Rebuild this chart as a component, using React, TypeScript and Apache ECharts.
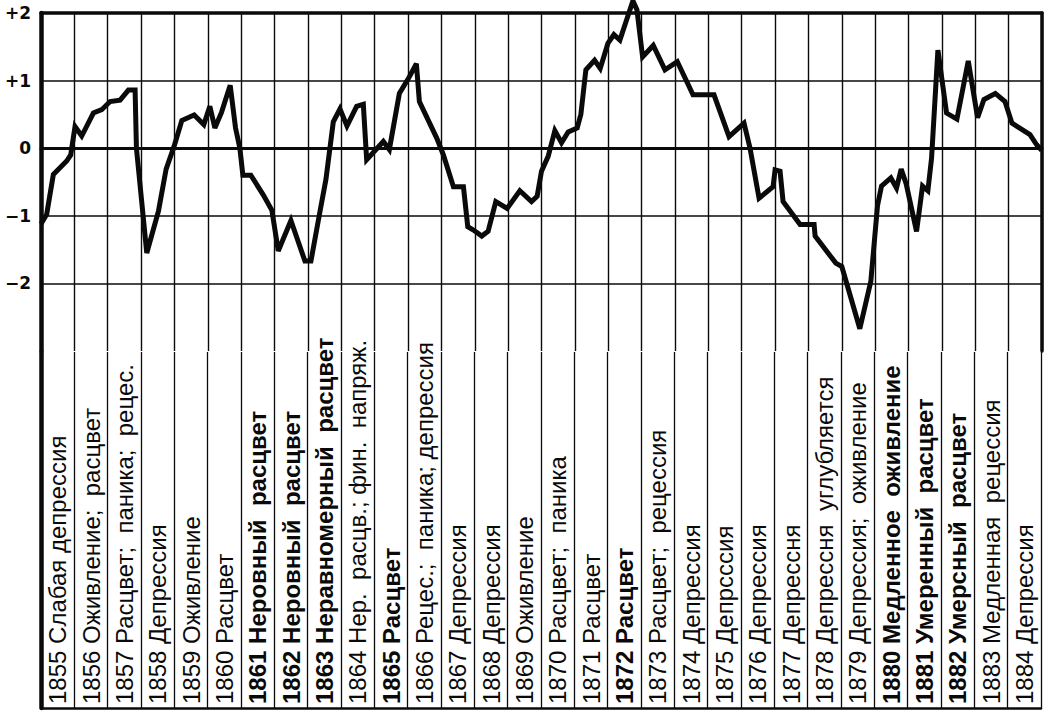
import React, { useEffect, useRef } from "react";
import * as echarts from "echarts";

// Years shown in the label strip
const years = [
  "1855", "1856", "1857", "1858", "1859", "1860", "1861", "1862", "1863", "1864",
  "1865", "1866", "1867", "1868", "1869", "1870", "1871", "1872", "1873", "1874",
  "1875", "1876", "1877", "1878", "1879", "1880", "1881", "1882", "1883", "1884",
];

// Business-annals phase for each year
const phases = [
  "Слабая депрессия",
  "Оживление;  расцвет",
  "Расцвет;  паника;  рецес.",
  "Депрессия",
  "Оживление",
  "Расцвет",
  "Неровный  расцвет",
  "Неровный  расцвет",
  "Неравномерный  расцвет",
  "Нер.  расцв.; фин.  напряж.",
  "Расцвет",
  "Рецес.;  паника; депрессия",
  "Депрессия",
  "Депрессия",
  "Оживление",
  "Расцвет;  паника",
  "Расцвет",
  "Расцвет",
  "Расцвет;  рецессия",
  "Депрессия",
  "Депрсссия",
  "Депрессия",
  "Депрессня",
  "Депрессня  углубляется",
  "Депрессия;  оживление",
  "Медленное  оживление",
  "Умеренный  расцвет",
  "Умерсный  расцвет",
  "Медленная  рецессия",
  "Депрессия",
];

// Years whose caption is printed in heavier type
const boldYears = ["1861", "1862", "1863", "1865", "1872", "1880", "1881", "1882"];

// Time (fractional year) of each vertex of the curve
const times = [
  1855.0, 1855.17, 1855.37, 1855.77, 1855.89, 1856.02, 1856.22, 1856.57, 1856.82, 1857.07,
  1857.37, 1857.62, 1857.82, 1857.86, 1858.17, 1858.52, 1858.75, 1858.99, 1859.22, 1859.59,
  1859.88, 1860.06, 1860.21, 1860.41, 1860.67, 1860.83, 1860.96, 1861.05, 1861.29, 1861.66,
  1861.92, 1862.11, 1862.49, 1862.91, 1863.09, 1863.33, 1863.54, 1863.76, 1863.96, 1864.17,
  1864.46, 1864.66, 1864.76, 1865.26, 1865.44, 1865.74, 1866.01, 1866.25, 1866.34, 1866.86,
  1867.06, 1867.36, 1867.66, 1867.79, 1867.96, 1868.21, 1868.4, 1868.63, 1868.97, 1869.35,
  1869.7, 1869.87, 1870.0, 1870.2, 1870.4, 1870.6, 1870.8, 1871.07, 1871.18, 1871.33,
  1871.59, 1871.76, 1871.99, 1872.17, 1872.35, 1872.74, 1872.86, 1873.03, 1873.35, 1873.7,
  1874.07, 1874.36, 1874.54, 1875.17, 1875.62, 1876.07, 1876.25, 1876.52, 1876.94, 1877.0,
  1877.15, 1877.24, 1877.75, 1878.17, 1878.2, 1878.82, 1879.0, 1879.54, 1879.87, 1880.07,
  1880.19, 1880.47, 1880.64, 1880.78, 1880.93, 1881.24, 1881.42, 1881.58, 1881.69, 1881.88,
  1882.14, 1882.45, 1882.79, 1883.07, 1883.26, 1883.6, 1883.89, 1884.1, 1884.64, 1884.84,
  1884.99,
];

// Index value at each vertex
const values = [
  -1.12, -0.98, -0.39, -0.19, -0.1, 0.32, 0.18, 0.52, 0.57, 0.69,
  0.71, 0.86, 0.86, 0.0, -1.55, -0.93, -0.31, 0.03, 0.41, 0.49,
  0.35, 0.62, 0.3, 0.53, 0.93, 0.3, 0.0, -0.4, -0.4, -0.69,
  -0.92, -1.52, -1.07, -1.67, -1.67, -1.02, -0.46, 0.39, 0.58, 0.33,
  0.62, 0.65, -0.17, 0.1, -0.02, 0.81, 1.03, 1.25, 0.69, 0.15,
  -0.1, -0.57, -0.57, -1.16, -1.21, -1.3, -1.23, -0.79, -0.89, -0.63,
  -0.79, -0.71, -0.34, -0.12, 0.26, 0.08, 0.24, 0.3, 0.5, 1.16,
  1.3, 1.18, 1.55, 1.68, 1.6, 2.18, 2.05, 1.35, 1.52, 1.16,
  1.28, 0.98, 0.79, 0.79, 0.17, 0.37, 0.0, -0.74, -0.57, -0.32,
  -0.34, -0.79, -1.13, -1.13, -1.3, -1.7, -1.75, -2.67, -1.97, -0.85,
  -0.56, -0.44, -0.59, -0.31, -0.53, -1.23, -0.56, -0.63, -0.15, 1.45,
  0.52, 0.43, 1.29, 0.45, 0.72, 0.81, 0.69, 0.37, 0.2, 0.05,
  -0.03,
];

const INK = "#0a0a0a";

export default function App() {
  const ref = useRef<HTMLDivElement>(null);

  useEffect(() => {
    if (!ref.current) return;
    const chart = echarts.init(ref.current, null, { renderer: "svg" });
    const captions = years.map((y, i) => y + " " + phases[i]);
    const curve = times.map((t, i) => [t, values[i]]);

    chart.setOption({
      animation: false,
      backgroundColor: "#ffffff",
      grid: [
        { left: 41, right: 6, top: 13, height: 338 },
        { left: 41, right: 7, top: 352, bottom: 6 },
      ],
      xAxis: [
        {
          gridIndex: 0,
          type: "value",
          min: 1855,
          max: 1885,
          interval: 1,
          axisLine: { show: true, onZero: true, lineStyle: { color: INK, width: 3 } },
          axisTick: { show: false },
          axisLabel: { show: false },
          splitLine: { show: true, lineStyle: { color: INK, width: 1.4 } },
        },
        {
          gridIndex: 0,
          type: "value",
          position: "top",
          min: 1855,
          max: 1885,
          interval: 1,
          axisLine: { show: true, onZero: false, lineStyle: { color: INK, width: 3.5 } },
          axisTick: { show: false },
          axisLabel: { show: false },
          splitLine: { show: false },
        },
        {
          gridIndex: 1,
          type: "category",
          data: captions,
          boundaryGap: true,
          axisLine: { show: true, lineStyle: { color: INK, width: 2.5 } },
          axisTick: { show: false },
          splitLine: { show: true, interval: 0, lineStyle: { color: INK, width: 1.3 } },
          axisLabel: {
            show: true,
            interval: 0,
            inside: true,
            rotate: 90,
            margin: 4,
            color: INK,
            fontSize: 24,
            fontFamily: "Liberation Sans",
            formatter: (v: string) => {
              const y = v.slice(0, 4);
              return boldYears.indexOf(y) >= 0 ? "{b|" + v + "}" : v;
            },
            rich: {
              b: {
                fontSize: 24,
                fontWeight: "bold",
                fontFamily: "Liberation Sans",
                color: INK,
              },
            },
          },
        },
      ],
      yAxis: [
        {
          gridIndex: 0,
          type: "value",
          min: -3,
          max: 2,
          interval: 1,
          axisLine: { show: true, onZero: false, lineStyle: { color: INK, width: 4.5 } },
          axisTick: { show: false },
          axisLabel: {
            show: true,
            margin: 10,
            color: INK,
            fontSize: 17,
            fontWeight: "bold",
            fontFamily: "DejaVu Sans",
            formatter: (v: number) =>
              v === -3 ? "" : v > 0 ? "+" + v : v < 0 ? "\u2212" + -v : "0",
          },
          splitLine: {
            show: true,
            lineStyle: {
              color: ["rgba(0,0,0,0)", INK, INK, INK, INK, "rgba(0,0,0,0)"],
              width: 1.5,
            },
          },
        },
        {
          gridIndex: 0,
          type: "value",
          position: "right",
          min: -3,
          max: 2,
          interval: 1,
          axisLine: { show: true, onZero: false, lineStyle: { color: INK, width: 3.5 } },
          axisTick: { show: false },
          axisLabel: { show: false },
          splitLine: { show: false },
        },
        {
          gridIndex: 1,
          type: "value",
          min: 0,
          max: 1,
          axisLine: { show: true, onZero: false, lineStyle: { color: INK, width: 4.5 } },
          axisTick: { show: false },
          axisLabel: { show: false },
          splitLine: { show: false },
        },
      ],
      series: [
        {
          type: "line",
          xAxisIndex: 0,
          yAxisIndex: 0,
          data: curve,
          showSymbol: false,
          symbol: "none",
          clip: false,
          lineStyle: { color: INK, width: 5, join: "miter", miterLimit: 3 },
          z: 10,
        },
      ],
    });

    return () => chart.dispose();
  }, []);

  return (
    <div
      ref={ref}
      style={{ position: "absolute", left: 0, top: 0, width: 1048, height: 714, background: "#fff" }}
    />
  );
}
